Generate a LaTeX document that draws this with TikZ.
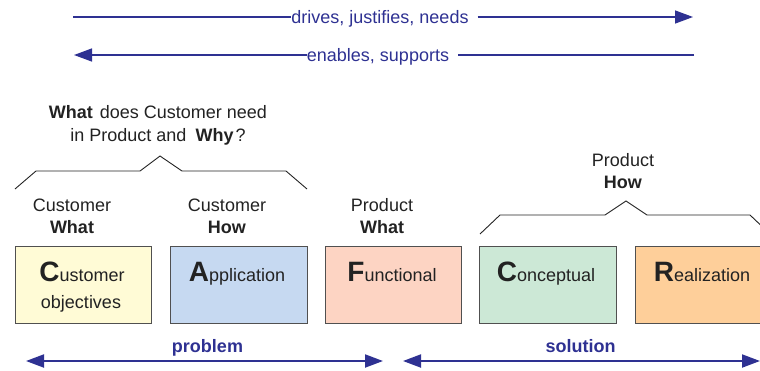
\documentclass[tikz,border=0pt]{standalone}
\usepackage{fontspec}
\setmainfont{Liberation Sans}
\usetikzlibrary{arrows.meta}
\definecolor{arrblue}{HTML}{2E3192}
\definecolor{textgray}{HTML}{222222}
\definecolor{boxgray}{HTML}{505050}
\definecolor{fillyellow}{HTML}{FFFBD6}
\definecolor{fillblue}{HTML}{C6D9F1}
\definecolor{fillpink}{HTML}{FDD4C3}
\definecolor{fillgreen}{HTML}{CCE8D6}
\definecolor{fillorange}{HTML}{FECF9A}
\newcommand\bigLetter[1]{{\fontsize{28}{28}\selectfont\bfseries #1}}
\begin{document}
\begin{tikzpicture}[x=1pt,y=-1pt,
  txt/.style={font=\fontsize{18}{22}\selectfont, text=textgray, inner sep=0pt, align=center},
  bluetxt/.style={font=\fontsize{18}{22}\selectfont, text=arrblue, inner sep=0pt, align=center},
  bluebold/.style={font=\fontsize{18}{22}\selectfont\bfseries, text=arrblue, inner sep=0pt},
  boxnode/.style={draw=boxgray, line width=0.8pt, minimum height=77pt, inner sep=0pt},
  toparr/.style={draw=arrblue, line width=1.5pt},
  toptip/.style={-{Triangle[length=18pt,width=13pt]}},
  botarr/.style={draw=arrblue, line width=2pt, {Triangle[length=18pt,width=13pt]}-{Triangle[length=18pt,width=13pt]}},
  bracket/.style={draw=textgray, line width=0.9pt}
]
\useasboundingbox (0,0) rectangle (760,370);
\clip (0,0) rectangle (760,370);

% top arrows
\coordinate (s1) at (73,17);
\coordinate (e1) at (693,17);
\node[bluetxt, anchor=base] (t1) at (380,23) {drives, justifies, needs};
\draw[toparr] (s1) -- (s1 -| t1.west);
\draw[toparr, toptip] ([xshift=9pt]e1 -| t1.east) -- (e1);

\coordinate (s2) at (694,55);
\coordinate (e2) at (74,55);
\node[bluetxt, anchor=base] (t2) at (378,61) {enables, supports};
\draw[toparr] (s2) -- ([xshift=9pt]s2 -| t2.east);
\draw[toparr, toptip] (e2 -| t2.west) -- (e2);

% question
\node[txt, font=\fontsize{18}{23}\selectfont] (q) at (158,125.5)
  {\textbf{What}\hspace{2pt} does Customer need\\in Product and \hspace{4pt}\textbf{Why}\hspace{2pt}?};

% brackets
\draw[bracket] (15,189) -- (36,171) -- (140,171) -- (160,156) -- (182,171) -- (286,171) -- (307,189);
\draw[bracket] (480,234) -- (500,215) -- (605,215) -- (626,201) -- (647,215) -- (750,215) -- (770,234);

% column labels
\node[txt] (l1) at (72,216) {Customer\\\textbf{What}};
\node[txt] (l2) at (227,216) {Customer\\\textbf{How}};
\node[txt] (l3) at (382,216) {Product\\\textbf{What}};
\node[txt] (l4) at (623,171) {Product\\\textbf{How}};

% boxes
\node[boxnode, fill=fillyellow, minimum width=136pt] (b1) at (83,284.5) {};
\node[boxnode, fill=fillblue, minimum width=137pt] (b2) at (238.5,284.5) {};
\node[boxnode, fill=fillpink, minimum width=136pt] (b3) at (393,284.5) {};
\node[boxnode, fill=fillgreen, minimum width=137pt] (b4) at (547.5,284.5) {};
\node[boxnode, fill=fillorange, minimum width=137pt] (b5) at (703.5,284.5) {};

\node[txt, anchor=base] (c1) at (82,281) {\bigLetter{C}ustomer};
\node[txt, anchor=base] (c1b) at (81,308) {objectives};
\node[txt, anchor=base] (c2) at (237,281) {\bigLetter{A}pplication};
\node[txt, anchor=base] (c3) at (392,281) {\bigLetter{F}unctional};
\node[txt, anchor=base] (c4) at (546,281) {\bigLetter{C}onceptual};
\node[txt, anchor=base] (c5) at (702,281) {\bigLetter{R}ealization};

% bottom arrows
\coordinate (p1) at (26,361);
\coordinate (p2) at (383,361);
\coordinate (q1) at (403,361);
\coordinate (q2) at (760,361);
\draw[botarr] (p1) -- (p2);
\draw[botarr] (q1) -- (q2);
\node[bluebold, anchor=base] (pl) at (207.5,352) {problem};
\node[bluebold, anchor=base] (sl) at (580.5,352) {solution};
\end{tikzpicture}
\end{document}
